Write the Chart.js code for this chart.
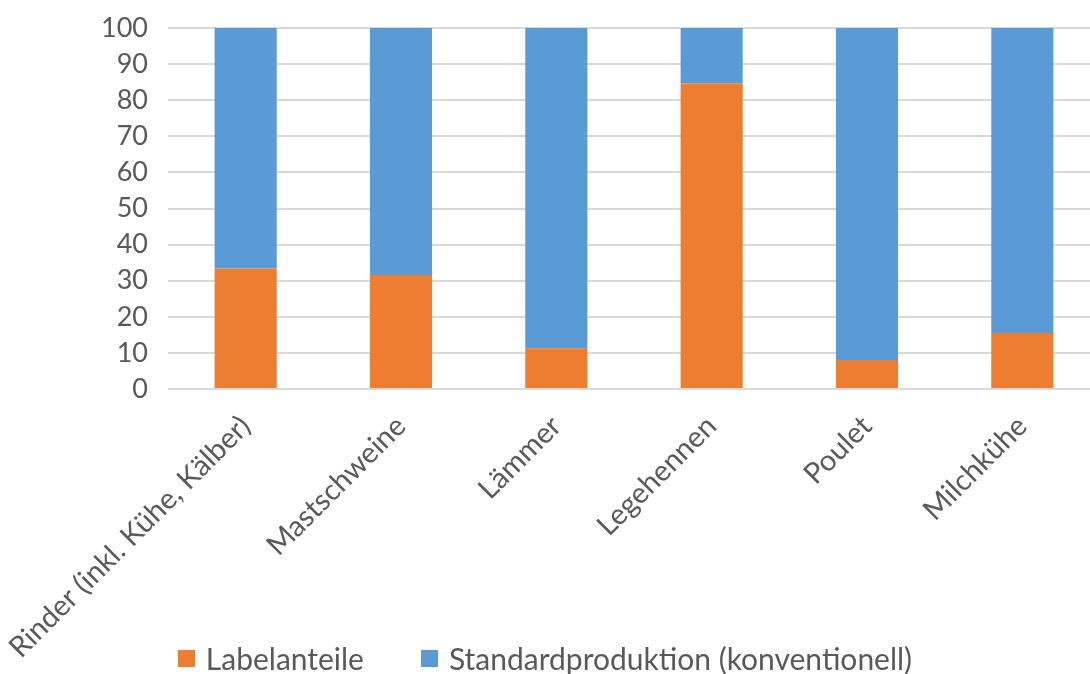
<!DOCTYPE html>
<html>
<head>
<meta charset="utf-8">
<script src="https://cdn.jsdelivr.net/npm/chart.js@4.4.0/dist/chart.umd.min.js"></script>
<style>
  body { margin: 0; overflow: hidden; background: #fff; }
  .wrap { position: relative; width: 1100px; height: 674px; }
  .legend {
    position: absolute; left: 0; top: 640px; width: 1090px;
    display: flex; justify-content: center; gap: 57px;
    font-family: Lato, "Open Sans", sans-serif; font-size: 30px; color: #595959;
  }
  .legend span { display: flex; align-items: center; }
  .legend i { display: inline-block; width: 17px; height: 17px; margin-right: 11px; }
</style>
</head>
<body>
<div class="wrap">
  <canvas id="labelChart"></canvas>
  <div class="legend js-legend"></div>
</div>
<script>
// Label shares by animal category (percent)
const categories = ['Rinder (inkl. Kühe, Kälber)', 'Mastschweine', 'Lämmer', 'Legehennen', 'Poulet', 'Milchkühe'];
const labelShare = [33.4, 31.6, 11.3, 84.6, 8.0, 15.5];
const standardShare = [66.6, 68.4, 88.7, 15.4, 92.0, 84.5];
const yTicks = [0, 10, 20, 30, 40, 50, 60, 70, 80, 90, 100];

const fontFamily = 'Lato, "Open Sans", sans-serif';
const textColor = '#595959';

const ctx = document.getElementById('labelChart').getContext('2d');
const chart = new Chart(ctx, {
  type: 'bar',
  data: {
    labels: categories,
    datasets: [
      {
        label: 'Labelanteile',
        data: labelShare,
        backgroundColor: '#ED7D31',
        barPercentage: 0.4,
        categoryPercentage: 1
      },
      {
        label: 'Standardproduktion (konventionell)',
        data: standardShare,
        backgroundColor: '#5B9BD5',
        barPercentage: 0.4,
        categoryPercentage: 1
      }
    ]
  },
  options: {
    responsive: true,
    maintainAspectRatio: false,
    animation: false,
    layout: { padding: { top: 28, bottom: 0, left: 0, right: 0 } },
    plugins: {
      tooltip: { enabled: false },
      legend: { display: false }
    },
    scales: {
      x: {
        stacked: true,
        grid: { display: false },
        border: { display: false },
        afterFit: axis => { axis.height = 285; axis.paddingLeft = 0; },
        ticks: {
          color: textColor,
          font: { family: fontFamily, size: 29 },
          maxRotation: 45,
          minRotation: 45,
          padding: 12
        }
      },
      y: {
        stacked: true,
        min: 0,
        max: 100,
        afterBuildTicks: axis => { axis.ticks = yTicks.map(v => ({ value: v })); },
        afterFit: axis => { axis.width = 168; axis.paddingTop = 0; axis.paddingBottom = 0; },
        grid: { color: '#D9D9D9', lineWidth: 2, drawTicks: false },
        border: { display: false },
        ticks: {
          autoSkip: false,
          color: textColor,
          font: { family: fontFamily, size: 27 },
          padding: 20
        }
      }
    }
  }
});

// legend as html below the chart
document.querySelector('.js-legend').innerHTML = chart.data.datasets.map(ds =>
  `<span><i style="background:${ds.backgroundColor}"></i>${ds.label}</span>`
).join('');
</script>
</body>
</html>
